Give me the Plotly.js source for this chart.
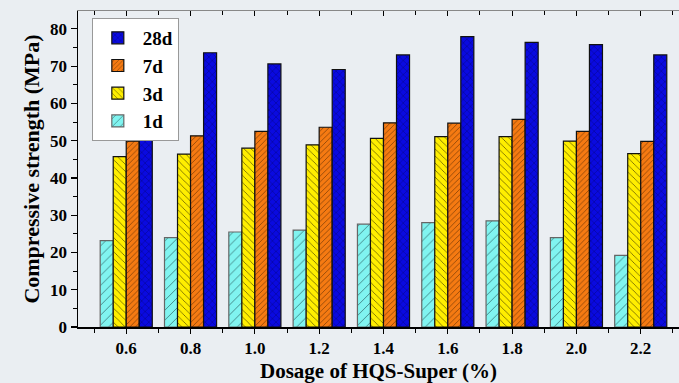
<!DOCTYPE html>
<html>
<head>
<meta charset="utf-8">
<script src="https://cdn.plot.ly/plotly-3.0.1.min.js"></script>
<style>html,body{margin:0;padding:0;background:#eaeef2;}#chart{width:679px;height:383px;}</style>
</head>
<body>
<div id="chart"></div>
<script>
const dosage = [0.6, 0.8, 1.0, 1.2, 1.4, 1.6, 1.8, 2.0, 2.2];
const tickLabels = ['0.6', '0.8', '1.0', '1.2', '1.4', '1.6', '1.8', '2.0', '2.2'];
const yTicks = [0, 10, 20, 30, 40, 50, 60, 70, 80];
const day1 = [23.2, 24.0, 25.5, 26.0, 27.6, 28.0, 28.5, 24.0, 19.2];
const day3 = [45.7, 46.4, 48.0, 48.9, 50.6, 51.1, 51.1, 49.9, 46.5];
const day7 = [49.9, 51.3, 52.5, 53.6, 54.8, 54.7, 55.7, 52.5, 49.8];
const day28 = [65.0, 73.6, 70.6, 69.1, 73.0, 77.9, 76.4, 75.8, 73.0];

const fam = '"Liberation Serif", "Times New Roman", serif';

function bar(name, y, color, shape, fg, line, size) {
  return {
    type: 'bar', name: '<b>' + name + '</b>', x: dosage, y: y,
    marker: {
      color: color,
      line: {color: line, width: 1.2},
      pattern: {shape: shape, bgcolor: color, fgcolor: fg, size: size, solidity: 0.12}
    },
    hoverinfo: 'x+y+name'
  };
}

const data = [
  bar('1d', day1, '#80f4f0', '/', '#3a7a7a', '#666', 7),
  bar('3d', day3, '#ffee00', '\\', '#3a3300', '#111', 5),
  bar('7d', day7, '#f57a12', '/', '#3a1c00', '#111', 4),
  bar('28d', day28, '#0a0ae0', 'x', '#000050', '#111', 5),
  {type: 'scatter', x: [0.6], y: [0], xaxis: 'x2', yaxis: 'y', showlegend: false, hoverinfo: 'skip', mode: 'markers', marker: {opacity: 0}}
];

const layout = {
  width: 679, height: 383,
  margin: {l: 78, r: 0, t: 11, b: 56},
  paper_bgcolor: '#eaeef2', plot_bgcolor: '#eaeef2',
  barmode: 'group', bargap: 0.19, bargroupgap: 0,
  font: {family: fam, color: '#000'},
  showlegend: true,
  legend: {
    x: 0.023, y: 0.978, xanchor: 'left', yanchor: 'top',
    bgcolor: '#ffffff', bordercolor: '#999', borderwidth: 1,
    traceorder: 'reversed', itemwidth: 40, tracegroupgap: 0,
    font: {family: fam, size: 19, color: '#000'}
  },
  xaxis: {
    range: [0.45, 2.319], tickvals: dosage, ticktext: tickLabels.map(t => '<b>' + t + '</b>'),
    ticks: 'outside', ticklen: 5, tickwidth: 1.2, tickcolor: '#000',
    minor: {dtick: 0.1, tick0: 0.5, ticks: 'outside', ticklen: 4, tickcolor: '#000', tickwidth: 1},
    showline: true, linecolor: '#000', linewidth: 1.5,
    showgrid: false, zeroline: false,
    tickfont: {family: fam, size: 17, color: '#000'},
    title: {text: '<b>Dosage of HQS-Super (%)</b>', standoff: 6, font: {family: fam, size: 21, color: '#000'}}
  },
  xaxis2: {
    overlaying: 'x', side: 'top', matches: 'x', range: [0.45, 2.319],
    tickvals: dosage, showticklabels: false,
    ticks: 'inside', ticklen: 5, tickwidth: 1.2, tickcolor: '#000',
    minor: {dtick: 0.1, tick0: 0.5, ticks: 'inside', ticklen: 4, tickcolor: '#000', tickwidth: 1},
    showline: true, linecolor: '#888', linewidth: 1.2,
    showgrid: false, zeroline: false
  },
  yaxis: {
    range: [0, 84.8], tickvals: yTicks, ticktext: yTicks.map(t => '<b>' + t + '</b>'),
    ticks: 'outside', ticklen: 6, tickwidth: 1.2, tickcolor: '#000',
    minor: {dtick: 5, ticks: 'outside', ticklen: 4, tickcolor: '#000', tickwidth: 1},
    showline: true, linecolor: '#000', linewidth: 1.5,
    showgrid: false, zeroline: false,
    tickfont: {family: fam, size: 17, color: '#000'},
    title: {text: '<b>Compressive strength (MPa)</b>', standoff: 4, font: {family: fam, size: 22, color: '#000'}}
  }
};

Plotly.newPlot('chart', data, layout, {displayModeBar: false, staticPlot: true});
</script>
</body>
</html>
